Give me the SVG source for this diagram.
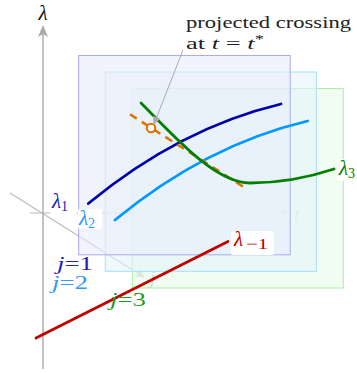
<svg xmlns="http://www.w3.org/2000/svg" width="357" height="373" viewBox="0 0 357 373">
<style>
.ax{stroke:#aaaaaa;stroke-width:1.4;fill:none}
.axl{stroke:#bbbbbb;stroke-width:1.2;fill:none}
.curve{fill:none;stroke-width:2.8;stroke-linecap:round}
.m{font-family:"Liberation Serif","DejaVu Serif",serif;font-style:italic}
.rm{font-family:"Liberation Serif","DejaVu Serif",serif}
.box{fill:#ffffff;stroke:none}
.sub{font-style:normal}
</style>
<defs>
<marker id="ahLight" viewBox="0 0 10 10" refX="9" refY="5" markerWidth="10" markerHeight="10" markerUnits="userSpaceOnUse" orient="auto">
<path d="M0,0 L10,5 L0,10 L3,5 Z" fill="#c8c8c8"/>
</marker>
<marker id="ahLead" viewBox="0 0 10 10" refX="9" refY="5" markerWidth="8" markerHeight="8" markerUnits="userSpaceOnUse" orient="auto">
<path d="M0,0 L10,5 L0,10 Z" fill="#aaaaaa"/>
</marker>
</defs>

<g id="axes">
<line class="axl" x1="30" y1="213" x2="289" y2="213" marker-end="url(#ahLight)"/>
<line class="axl" x1="10" y1="193" x2="144" y2="277" marker-end="url(#ahLight)"/>
<text class="m" x="294" y="221" font-size="19" fill="#bbbbbb">t</text>
<text class="m" x="150" y="284" font-size="19" fill="#999999">j</text>
<line class="ax" x1="43" y1="369" x2="43" y2="32"/>
<path d="M43,25 L48,37 L43,34 L38,37 Z" fill="#aaaaaa"/>
<text class="m" x="43" y="20" font-size="21" fill="#111111" text-anchor="middle">λ</text>
</g>

<g id="plane3">
<rect x="132.3" y="88.5" width="211" height="199.5" fill="#e8fbe8" fill-opacity="0.6" stroke="#a8f0a8" stroke-width="1"/>
</g>
<g id="plane2">
<rect x="105.3" y="72" width="211" height="199.3" fill="#e4f4fb" fill-opacity="0.6" stroke="#a8def5" stroke-width="1"/>
</g>
<g id="plane1">
<rect x="78.7" y="55.5" width="211.5" height="199.3" fill="#eaedfb" fill-opacity="0.6" stroke="#aaaaee" stroke-width="1"/>
</g>

<g id="connectors">
<path id="lambda2" class="curve" stroke="#0099ff" d="M115,220 Q206,145 307.7,121"/>
<path id="lambda1" class="curve" stroke="#0000aa" d="M88.3,203.5 Q180,128 281,104"/>
<line id="tangent" x1="130" y1="114.3" x2="244.5" y2="187.5" stroke="#dd7000" stroke-width="2.5" stroke-dasharray="8,6" fill="none"/>
<path id="lambda3" class="curve" stroke="#008000" d="M141,103 C175,137 215,183 250,183 C280,183 310,177 334,169"/>
<circle cx="151" cy="128" r="4.2" fill="#ffffff" stroke="#dd7000" stroke-width="2"/>
<line id="lambdam1" x1="36" y1="338" x2="228" y2="241.5" stroke="#bb0000" stroke-width="2.8" stroke-linecap="round"/>
<line id="leader" x1="183" y1="50" x2="154" y2="124" stroke="#aaaaaa" stroke-width="1" marker-end="url(#ahLead)"/>
</g>

<g id="annotation">
<text class="rm" x="186" y="28" font-size="17" fill="#222222" textLength="165" lengthAdjust="spacingAndGlyphs">projected crossing</text>
<text class="rm" x="186" y="49" font-size="17" fill="#222222" textLength="78" lengthAdjust="spacingAndGlyphs">at <tspan class="m">t</tspan> = <tspan class="m">t</tspan><tspan font-size="12" dy="-6">*</tspan></text>
</g>

<g id="label-l1">
<rect class="box" x="50" y="193" width="27" height="21" rx="2"/>
<text class="m" x="52" y="208" font-size="21" fill="#2222aa">λ<tspan class="sub" font-size="14" dy="3">1</tspan></text>
</g>
<g id="label-l2">
<rect class="box" x="78" y="209" width="24" height="20" rx="2"/>
<text class="m" x="79" y="225" font-size="21" fill="#2299ff">λ<tspan class="sub" font-size="14" dy="3">2</tspan></text>
</g>
<g id="label-lm1">
<rect class="box" x="231" y="231" width="43" height="24" rx="2"/>
<text class="m" x="234" y="246" font-size="21" fill="#bb0000">λ<tspan class="sub" x="246" dy="3" font-size="15" textLength="22" lengthAdjust="spacingAndGlyphs">−1</tspan></text>
</g>
<g id="label-l3">
<rect class="box" x="336.7" y="159" width="24" height="22" rx="2"/>
<text class="m" x="339" y="175" font-size="21" fill="#008000">λ<tspan class="sub" font-size="14" dy="3">3</tspan></text>
</g>
<g id="label-j1">
<text class="m" x="57" y="270" font-size="19" fill="#2222bb" textLength="36" lengthAdjust="spacingAndGlyphs">j<tspan class="sub">=1</tspan></text>
</g>
<g id="label-j2">
<text class="m" x="52" y="289" font-size="19" fill="#3399ff" textLength="36" lengthAdjust="spacingAndGlyphs">j<tspan class="sub">=2</tspan></text>
</g>
<g id="label-j3">
<text class="m" x="110" y="306" font-size="19" fill="#229922" textLength="36" lengthAdjust="spacingAndGlyphs">j<tspan class="sub">=3</tspan></text>
</g>
</svg>
